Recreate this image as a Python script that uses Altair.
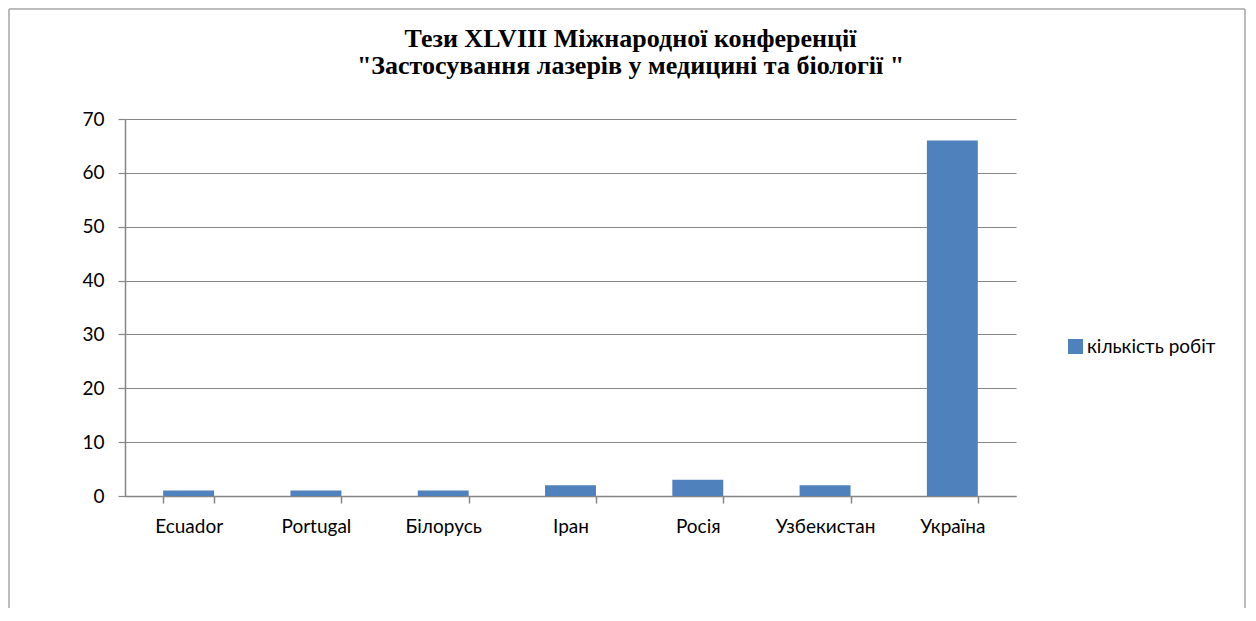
import altair as alt
import pandas as pd

countries = ["Ecuador", "Portugal", "Білорусь", "Іран", "Росія", "Узбекистан", "Україна"]
counts = [1, 1, 1, 2, 3, 2, 66]
series_name = "кількість робіт"
title_lines = ["Тези XLVIII Міжнародної конференції",
               "\"Застосування лазерів у медицині та біології \""]
y_ticks = [0, 10, 20, 30, 40, 50, 60, 70]

df = pd.DataFrame({"country": countries, "count": counts,
                   "series": [series_name] * len(countries)})

W, H = 891, 377
PAD_L, PAD_T = 117, 111
TOTAL_W, TOTAL_H = 1238, 600
GRAY = "#868686"
FRAME = "#A6A6A6"
FONT = "Lato"

bars = alt.Chart(df).mark_bar().encode(
    x=alt.X("country:N", sort=countries, title=None,
            scale=alt.Scale(paddingInner=0.6, paddingOuter=0.3),
            axis=alt.Axis(labelAngle=0, tickBand="extent", domainColor=GRAY,
                          tickColor=GRAY, tickSize=7, labelPadding=14,
                          labelFont=FONT, labelFontSize=19, labelColor="#000000",
                          grid=False, domainWidth=1.5, tickWidth=1.5)),
    y=alt.Y("count:Q", title=None, scale=alt.Scale(domain=[0, 70], nice=False),
            axis=alt.Axis(values=y_ticks, grid=True, gridColor=GRAY, gridWidth=1.2,
                          domainColor=GRAY, tickColor=GRAY, tickSize=7,
                          labelPadding=14, labelFont=FONT, labelFontSize=19,
                          labelColor="#000000", domainWidth=1.5, tickWidth=1.2)),
    color=alt.Color("series:N", scale=alt.Scale(range=["#4F81BD"]),
                    legend=alt.Legend(title=None, orient="none", legendX=941,
                                      legendY=218, symbolType="square",
                                      symbolSize=225, symbolStrokeWidth=0,
                                      labelFont=FONT, labelFontSize=19,
                                      labelColor="#000000", labelOffset=2,
                                      padding=0)),
)

one = alt.Data(values=[{}])
frame_left = alt.Chart(one).mark_rule(color=FRAME, strokeWidth=1.5).encode(
    x=alt.value(-PAD_L + 1), y=alt.value(-PAD_T + 1), y2=alt.value(H + 200))
frame_top = alt.Chart(one).mark_rule(color=FRAME, strokeWidth=1.5).encode(
    x=alt.value(-PAD_L + 1), x2=alt.value(TOTAL_W - PAD_L - 1), y=alt.value(-PAD_T + 1))
frame_right = alt.Chart(one).mark_rule(color=FRAME, strokeWidth=1.5).encode(
    x=alt.value(TOTAL_W - PAD_L - 1), y=alt.value(-PAD_T + 1), y2=alt.value(H + 200))

chart = alt.layer(bars, frame_left, frame_top, frame_right).properties(
    width=W, height=H,
    title=alt.TitleParams(text=title_lines, font="Liberation Serif", fontSize=26,
                          fontWeight="bold", color="#000000", anchor="middle",
                          frame="group", dx=60, offset=-71, lineHeight=27),
    autosize=alt.AutoSizeParams(type="none"),
    padding={"left": PAD_L, "top": PAD_T,
             "right": TOTAL_W - PAD_L - W, "bottom": TOTAL_H - PAD_T - H},
).configure(background="white").configure_view(stroke=None)

chart.save("out.html", embed_options={"renderer": "svg", "actions": False})
